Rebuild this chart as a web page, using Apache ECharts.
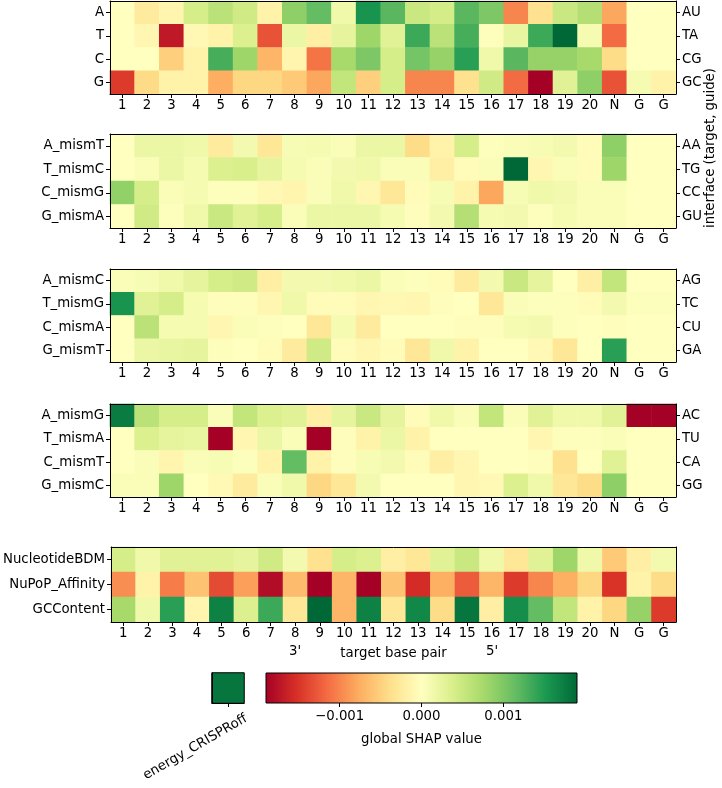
<!DOCTYPE html>
<html>
<head>
<meta charset="utf-8">
<script src="https://cdn.jsdelivr.net/npm/echarts@6/dist/echarts.min.js"></script>
<style>html,body{margin:0;padding:0;background:#fff}#c{width:722px;height:788px}</style>
</head>
<body>
<div id="c"></div>
<script>
// ---- data (SHAP values in units of 1e-3) ----
const columns = ['1','2','3','4','5','6','7','8','9','10','11','12','13','14','15','16','17','18','19','20','N','G','G'];

const p1Rows = ['A','T','C','G'];
const p1Right = ['AU','TA','CG','GC'];
const p1A = [0, -0.25, -0.12, 0.4, 0.6, 0.45, -0.15, 0.9, 1.15, 0.15, 1.55, 1.2, 0.5, 0.42, 1.2, 1.0, -1.0, -0.35, 0.5, 0.65, -0.8, 0, 0];
const p1T = [0, -0.1, -1.7, -0.08, -0.15, 0.35, -1.3, 0.2, -0.2, 0.25, 0.8, 0.3, 1.35, 0.6, 1.3, 0.02, 0.22, 1.35, 1.9, 0.1, -1.15, 0, 0];
const p1C = [0, 0, -0.5, -0.15, 1.3, 0.8, -0.7, -0.12, -1.1, 0.75, 1.0, 0.4, 1.05, 0.85, 1.45, 0.15, 1.2, 0.85, 0.85, 0.75, -0.4, 0, 0];
const p1G = [-1.45, -0.42, -0.15, -0.15, -0.76, -0.45, -0.45, -0.55, -0.8, 0.55, -0.5, 0.4, -1.0, -1.0, -0.35, 0.45, -1.15, -1.9, 0.3, 0.9, -1.3, 0.1, -0.15];

const p2Rows = ['A_mismT','T_mismC','C_mismG','G_mismA'];
const p2Right = ['AA','TG','CC','GU'];
const p2A = [0, 0.2, 0.2, 0.15, -0.25, 0.12, -0.3, 0.08, 0.1, 0.05, 0.2, 0.2, -0.4, -0.15, 0.4, 0.02, 0.05, 0.08, 0.12, -0.05, 0.9, 0, 0];
const p2T = [0, 0.05, 0.2, 0.1, 0.35, 0.38, 0.25, 0.1, 0.05, 0.12, 0.15, 0.05, 0.05, -0.2, -0.05, 0.05, 1.9, -0.1, 0.05, -0.05, 0.8, 0, 0];
const p2C = [0.88, 0.4, 0.05, 0.1, 0.02, 0.02, -0.08, -0.12, 0.05, 0.15, -0.1, -0.3, -0.05, 0.08, -0.15, -0.8, 0.08, 0.15, 0.12, 0.05, 0.05, 0, 0];
const p2G = [0, 0.45, 0.02, 0.15, 0.5, 0.3, 0.4, 0.05, 0.2, 0.2, 0.2, 0.1, -0.03, 0.12, 0.65, 0.1, 0.12, 0.02, 0.1, 0.05, 0.05, 0, 0];

const p3Rows = ['A_mismC','T_mismG','C_mismA','G_mismT'];
const p3Right = ['AG','TC','CU','GA'];
const p3A = [0.05, 0.08, 0.15, 0.25, 0.4, 0.45, -0.2, 0.12, 0.12, 0.15, 0.2, 0.05, 0.02, -0.05, -0.25, 0.12, 0.5, 0.25, 0, -0.2, 0.55, 0, 0];
const p3T = [1.55, 0.3, 0.4, 0.1, -0.03, -0.03, -0.1, 0.15, -0.05, -0.05, -0.1, -0.08, -0.1, -0.02, 0, -0.3, 0.05, 0.03, 0.02, -0.05, 0.12, 0.03, 0.03];
const p3C = [0, 0.6, 0.1, 0.1, -0.1, 0.05, 0.02, 0, -0.3, 0.1, -0.25, 0, 0, 0, -0.03, -0.03, 0.1, 0.12, 0.02, 0, -0.03, 0, 0];
const p3G = [0, 0.2, 0.22, 0.25, 0.02, 0, -0.05, -0.25, 0.45, -0.05, -0.1, -0.05, -0.3, 0.15, -0.15, 0, 0, -0.07, -0.3, 0, 1.45, 0, 0];

const p4Rows = ['A_mismG','T_mismA','C_mismT','G_mismC'];
const p4Right = ['AC','TU','CA','GG'];
const p4A = [1.75, 0.6, 0.4, 0.4, 0.05, 0.55, 0.35, 0.3, -0.2, 0.25, 0.5, 0.25, -0.05, 0.15, 0.05, 0.55, 0.05, 0.3, 0.15, 0.15, 0.3, -1.9, -1.9];
const p4T = [0, 0.35, 0.25, 0.22, -1.9, -0.1, 0.2, 0.05, -1.9, -0.03, -0.15, 0.2, -0.15, 0, 0, 0, 0, -0.1, 0.02, 0.02, 0.05, 0, 0];
const p4C = [0, 0.05, -0.12, 0.05, 0.08, 0.03, -0.15, 1.15, -0.15, -0.02, 0.08, 0.12, -0.05, -0.2, -0.1, 0, 0, -0.03, -0.35, 0, 0.3, 0, 0];
const p4G = [0.05, 0.05, 0.8, 0, -0.07, -0.25, 0.05, 0.15, -0.45, -0.3, 0.12, 0, 0, 0, -0.1, -0.07, 0.35, 0.15, -0.3, -0.4, 0.9, 0, 0];

const p5Rows = ['NucleotideBDM','NuPoP_Affinity','GCContent'];
const p5BDM = [0.4, 0.15, 0.3, 0.3, 0.3, 0.25, 0.45, 0.12, -0.35, 0.4, 0.35, -0.2, -0.3, 0.3, 0.5, 0.15, -0.3, 0.3, 0.8, 0.15, -0.55, -0.2, 0.12];
const p5NuPoP = [-0.95, -0.15, -1.05, -0.6, -1.35, -0.85, -1.8, -0.65, -1.9, -0.7, -1.9, -0.6, -1.55, -0.75, -1.25, -0.7, -1.45, -1.0, -0.75, -0.45, -1.5, -0.15, -0.4];
const p5GC = [0.75, 0.15, 1.45, -0.12, 1.7, 0.35, 1.35, -0.3, 1.9, -0.7, 1.7, -0.3, 1.65, -0.4, 1.8, -0.2, 1.6, 1.15, 0.55, -0.15, -0.45, 0.85, -1.45];

const energyLabel = ['energy_CRISPRoff'];
const energyValue = [1.8];

const cbMin = -1.9, cbMax = 1.9;
const cbTicks = [-1, 0, 1];
const cbTickLabels = ['\u22120.001', '0.000', '0.001'];

const RdYlGn = ['#a50026','#d73027','#f46d43','#fdae61','#fee08b','#ffffbf','#d9ef8b','#a6d96a','#66bd63','#1a9850','#006837'];

// ---- build ----
const FONT = 'DejaVu Sans';
const FS = 13.3;
const FONTSTR = FS + 'px "DejaVu Sans"';
const txt = {fontFamily: FONT, fontSize: FS, color: '#000'};
const panels = [
  {rows: p1Rows, right: p1Right, vals: [p1A, p1T, p1C, p1G], top: 1, height: 93},
  {rows: p2Rows, right: p2Right, vals: [p2A, p2T, p2C, p2G], top: 134, height: 94},
  {rows: p3Rows, right: p3Right, vals: [p3A, p3T, p3C, p3G], top: 269, height: 93},
  {rows: p4Rows, right: p4Right, vals: [p4A, p4T, p4C, p4G], top: 404, height: 93},
  {rows: p5Rows, right: null, vals: [p5BDM, p5NuPoP, p5GC], top: 547, height: 75}
];

const grid = [], xAxis = [], yAxis = [], series = [];
const lineStyle = {color: '#000', width: 1};
panels.forEach((p, i) => {
  grid.push({left: 110, width: 566, top: p.top, height: p.height});
  const last = i === panels.length - 1;
  xAxis.push({
    type: 'category', gridIndex: i, data: columns, position: 'bottom', z: 5,
    axisLine: {show: true, lineStyle}, axisTick: {show: true, alignWithLabel: true, length: 4, lineStyle},
    axisLabel: Object.assign({interval: 0, margin: 5}, txt),
    name: last ? 'target base pair' : '', nameLocation: 'middle', nameGap: 25, nameTextStyle: txt
  });
  xAxis.push({
    type: 'category', gridIndex: i, data: columns, position: 'top', z: 5,
    axisLine: {show: true, lineStyle}, axisTick: {show: false}, axisLabel: {show: false}
  });
  yAxis.push({
    type: 'category', gridIndex: i, data: p.rows, inverse: true, position: 'left', z: 5,
    axisLine: {show: true, lineStyle}, axisTick: {show: true, alignWithLabel: true, length: 4, lineStyle},
    axisLabel: Object.assign({margin: 6}, txt)
  });
  yAxis.push({
    type: 'category', gridIndex: i, data: p.right || p.rows, inverse: true, position: 'right', z: 5,
    axisLine: {show: true, lineStyle},
    axisTick: {show: !!p.right, alignWithLabel: true, length: 4, lineStyle},
    axisLabel: Object.assign({show: !!p.right, margin: 6}, txt)
  });
  const data = [];
  p.vals.forEach((row, r) => row.forEach((v, c) => data.push([c, r, v])));
  series.push({type: 'heatmap', xAxisIndex: 2 * i, yAxisIndex: 2 * i, data, itemStyle: {borderWidth: 0}});
});

// energy cell
const ei = panels.length;
grid.push({left: 212, width: 32, top: 673, height: 30});
xAxis.push({
  type: 'category', gridIndex: ei, data: energyLabel, z: 5,
  axisLine: {show: true, lineStyle}, axisTick: {show: true, alignWithLabel: true, length: 4, lineStyle},
  axisLabel: {show: false}
});
yAxis.push({type: 'category', gridIndex: ei, data: [''], z: 5, axisLine: {show: true, lineStyle}, axisTick: {show: false}, axisLabel: {show: false}});
series.push({type: 'heatmap', xAxisIndex: ei * 2, yAxisIndex: ei * 2, data: energyValue.map((v, k) => [k, 0, v]),
  itemStyle: {borderColor: '#000', borderWidth: 1}});

// colorbar
const ci = ei + 1;
grid.push({left: 266, width: 311, top: 673, height: 30});
xAxis.push({
  type: 'value', gridIndex: ci, min: cbMin, max: cbMax, z: 5,
  splitLine: {show: false}, axisLine: {show: false},
  axisTick: {show: true, customValues: cbTicks, length: 4, lineStyle},
  axisLabel: Object.assign({customValues: cbTicks, margin: 7, formatter: v => cbTickLabels[cbTicks.indexOf(Math.round(v))]}, txt),
  name: 'global SHAP value', nameLocation: 'middle', nameGap: 30, nameTextStyle: txt
});
yAxis.push({type: 'value', gridIndex: ci, min: 0, max: 1, show: false});
const stops = RdYlGn.map((c, k) => ({offset: k / (RdYlGn.length - 1), color: c}));
series.push({
  type: 'custom', xAxisIndex: ei * 2 + 1, yAxisIndex: ei * 2 + 1, data: [[cbMin, cbMax]],
  encode: {x: [0, 1]},
  renderItem: (params, api) => {
    const a = api.coord([api.value(0), 0]);
    const b = api.coord([api.value(1), 1]);
    return {type: 'rect', shape: {x: a[0], y: b[1], width: b[0] - a[0], height: a[1] - b[1]},
      style: {fill: new echarts.graphic.LinearGradient(0, 0, 1, 0, stops), stroke: '#000', lineWidth: 1}};
  }
});

const chart = echarts.init(document.getElementById('c'), null, {renderer: 'canvas'});
chart.setOption({
  animation: false,
  backgroundColor: '#fff',
  grid, xAxis, yAxis, series,
  visualMap: {type: 'continuous', show: false, min: cbMin, max: cbMax, seriesIndex: [0, 1, 2, 3, 4, 5], inRange: {color: RdYlGn}},
  graphic: [
    {type: 'text', x: 711, y: 148, rotation: Math.PI / 2, style: {text: 'interface (target, guide)', fill: '#000', align: 'center', verticalAlign: 'middle', font: FONTSTR}},
    {type: 'text', x: 295, y: 652, style: {text: "3'", fill: '#000', align: 'center', verticalAlign: 'middle', font: FONTSTR}},
    {type: 'text', x: 492, y: 652, style: {text: "5'", fill: '#000', align: 'center', verticalAlign: 'middle', font: FONTSTR}},
    {type: 'text', x: 243, y: 712, rotation: Math.PI / 6, style: {text: energyLabel[0], fill: '#000', align: 'right', verticalAlign: 'top', font: FONTSTR}}
  ]
});
</script>
</body>
</html>
